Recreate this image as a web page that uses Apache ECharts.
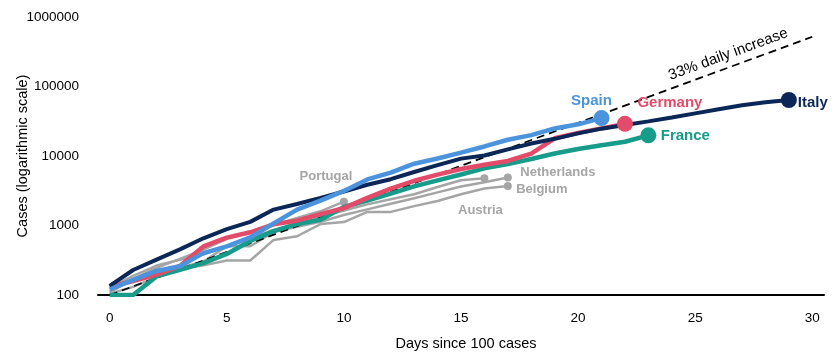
<!DOCTYPE html>
<html>
<head>
<meta charset="utf-8">
<script src="https://cdn.jsdelivr.net/npm/echarts@6/dist/echarts.min.js"></script>
<style>
  html, body { margin: 0; padding: 0; background: #fff; }
  #chart { width: 840px; height: 356px; }
</style>
</head>
<body>
<div id="chart"></div>
<script>
// Cumulative confirmed cases, indexed by days since each country passed 100 cases
const italy = [135, 229, 322, 453, 655, 888, 1128, 1694, 2036, 2502, 3089, 3858, 4636, 5883, 7375, 9172, 10149, 12462, 15113, 17660, 21157, 24747, 27980, 31506, 35713, 41035, 47021, 53578, 59138, 63927];
const spain = [120, 165, 222, 259, 400, 500, 673, 1073, 1695, 2277, 3146, 4600, 5753, 7753, 9191, 11178, 13716, 17147, 19980, 24926, 28572, 35136];
const germany = [130, 159, 196, 262, 500, 670, 799, 1040, 1176, 1457, 1780, 2500, 3400, 4400, 5400, 6500, 7500, 8500, 10800, 18000, 21500, 25000, 29000];
const france = [100, 100, 185, 230, 288, 390, 600, 830, 1050, 1209, 1850, 2281, 2876, 3661, 4469, 5423, 6633, 7652, 9043, 10871, 12612, 14282, 16018, 19856];
const portugal = [112, 169, 245, 331, 448, 642, 785, 1020, 1280, 1600, 2200];
const netherlands = [128, 188, 265, 321, 382, 503, 503, 804, 959, 1135, 1413, 1705, 2051, 2460, 2994, 3631, 4204, 4900];
const belgium = [109, 169, 200, 239, 267, 314, 314, 620, 700, 1050, 1120, 1570, 1570, 1900, 2257, 2815, 3401, 3700];
const austria = [104, 131, 182, 246, 302, 504, 655, 860, 1018, 1332, 1646, 2013, 2388, 2814, 3582, 4474, 4800];

// Reference path: 33% growth per day from 100 cases (two endpoints on a log axis)
const refStart = [0, 100];
const refEnd = [30, 520000];
const refLabel = '33% daily increase';

const xTicks = [0, 5, 10, 15, 20, 25, 30];
const yTicks = [100, 1000, 10000, 100000, 1000000];

const FONT = '"Liberation Sans", Arial, sans-serif';
const GREY = '#a5a5a5';

function pairs(arr) { return arr.map((v, i) => [i, v]); }
function lastPoint(arr) { return [arr.length - 1, arr[arr.length - 1]]; }

const countries = [
  { name: 'Austria', data: austria, color: GREY, width: 2.5, size: 8, font: 13, off: [-4, 32], major: false },
  { name: 'Belgium', data: belgium, color: GREY, width: 2.5, size: 8, font: 13, off: [34, 3], major: false },
  { name: 'Netherlands', data: netherlands, color: GREY, width: 2.5, size: 8, font: 13, off: [50, -5], major: false },
  { name: 'Portugal', data: portugal, color: GREY, width: 2.5, size: 8, font: 13, off: [-18, -25], major: false },
  { name: 'France', data: france, color: '#179b8a', width: 4.5, size: 16, font: 15, off: [37, 1], major: true },
  { name: 'Germany', data: germany, color: '#e24c69', width: 4.5, size: 16, font: 15, off: [45, -21], major: true },
  { name: 'Italy', data: italy, color: '#0b2757', width: 4, size: 16, font: 15, off: [24, 3], major: true },
  { name: 'Spain', data: spain, color: '#4b93dc', width: 4.5, size: 16, font: 15, off: [-10, -17], major: true }
];

const series = [];

// dashed growth reference drawn as a mark line on an empty line series
series.push({
  type: 'line',
  data: [],
  silent: true,
  z: 3,
  markLine: {
    silent: true,
    symbol: ['none', 'none'],
    animation: false,
    lineStyle: { type: [8, 5], color: '#000', width: 1.8 },
    label: {
      show: true,
      formatter: refLabel,
      position: 'insideEndTop',
      distance: [22, 5],
      color: '#000',
      fontFamily: FONT,
      fontSize: 15
    },
    data: [[{ coord: refStart }, { coord: refEnd }]]
  }
});

countries.forEach((c, idx) => {
  series.push({
    name: c.name,
    type: 'line',
    data: pairs(c.data),
    showSymbol: false,
    symbol: 'none',
    lineStyle: { color: c.color, width: c.width },
    z: c.major ? 5 + idx : 2,
    animation: false
  });
  series.push({
    name: c.name + ' end',
    type: 'scatter',
    data: [lastPoint(c.data)],
    symbol: 'circle',
    symbolSize: c.size,
    itemStyle: { color: c.color, opacity: 1 },
    z: c.major ? 20 + idx : 4,
    animation: false,
    label: {
      show: true,
      formatter: c.name,
      position: 'inside',
      offset: c.off,
      color: c.color,
      opacity: 1,
      fontFamily: FONT,
      fontWeight: 'bold',
      fontSize: c.font
    }
  });
});

const chart = echarts.init(document.getElementById('chart'));
chart.setOption({
  backgroundColor: '#fff',
  animation: false,
  grid: { left: 98, right: 16, top: 17, bottom: 61, containLabel: false, outerBoundsMode: 'none' },
  xAxis: {
    type: 'value',
    min: -0.5,
    max: 30.5,
    interval: 0.5,
    name: 'Days since 100 cases',
    nameLocation: 'middle',
    nameGap: 41,
    nameMoveOverlap: false,
    nameTextStyle: { color: '#000', fontFamily: FONT, fontSize: 14.5, padding: [0, 0, 0, 10] },
    axisLine: { show: true, onZero: false, lineStyle: { color: '#000', width: 2 } },
    axisTick: { show: false },
    splitLine: { show: false },
    axisLabel: {
      color: '#000',
      fontFamily: FONT,
      fontSize: 13.5,
      margin: 16,
      formatter: v => (xTicks.indexOf(v) >= 0 ? String(v) : '')
    }
  },
  yAxis: {
    type: 'log',
    logBase: 10,
    min: yTicks[0],
    max: yTicks[yTicks.length - 1],
    name: 'Cases (logarithmic scale)',
    nameLocation: 'middle',
    nameGap: 68,
    nameMoveOverlap: false,
    nameTextStyle: { color: '#000', fontFamily: FONT, fontSize: 14.5 },
    axisLine: { show: false },
    axisTick: { show: false },
    splitLine: { show: false },
    axisLabel: {
      color: '#000',
      fontFamily: FONT,
      fontSize: 13.5,
      margin: 19,
      formatter: v => String(Math.round(v))
    }
  },
  series: series
});
</script>
</body>
</html>
